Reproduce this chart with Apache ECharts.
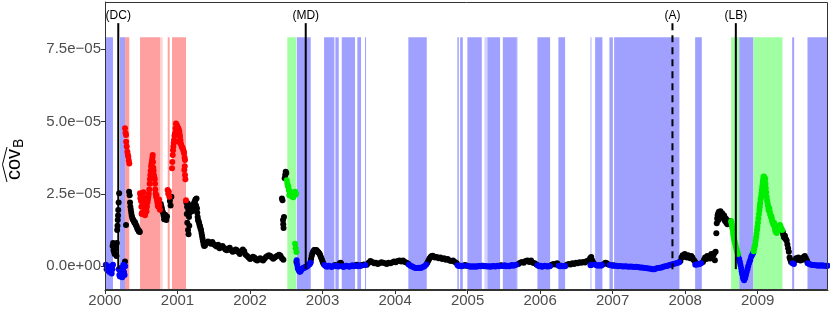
<!DOCTYPE html>
<html><head><meta charset="utf-8">
<script src="https://cdn.jsdelivr.net/npm/echarts@6/dist/echarts.min.js"></script>
<style>html,body{margin:0;padding:0;background:#fff}#c{width:830px;height:313px}</style>
</head><body><div id="c"></div>
<script>
// x values: decimal years; y values: covariance in units of 1e-5
const xTickValues = [2000,2001,2002,2003,2004,2005,2006,2007,2008,2009];
const xTickLabels = ['2000','2001','2002','2003','2004','2005','2006','2007','2008','2009'];
const yTickValues = [0, 2.5, 5, 7.5];
const yTickLabels = ['0.0e+00','2.5e\u221205','5.0e\u221205','7.5e\u221205'];

const eventYears  = [2000.183, 2002.768, 2007.825, 2008.699];
const eventLabels = ['(DC)', '(MD)', '(A)', '(LB)'];

const blueBands = [[2000.014,2000.110],[2000.207,2000.276],[2002.644,2002.837],[2003.021,2003.163],[2003.177,2003.223],[2003.265,2003.448],[2003.480,2003.531],[2003.586,2003.596],[2004.183,2004.437],[2004.859,2004.879],[2004.897,2004.934],[2004.997,2005.196],[2005.273,2005.448],[2005.486,2005.679],[2005.963,2006.138],[2006.252,2006.345],[2006.759,2006.859],[2006.956,2007.003],[2007.021,2007.921],[2008.138,2008.230],[2008.745,2008.942],[2009.476,2009.503],[2009.687,2009.970]];
const faintBlueBands = [[2005.232,2005.273],[2006.690,2006.713],[2005.679,2005.690]];
const redBands = [[2000.276,2000.335],[2000.483,2000.759],[2000.865,2000.892],[2000.924,2001.117]];
const faintRedBands = [[2000.759,2000.796]];
const greenBands = [[2002.514,2002.634],[2008.634,2008.745],[2008.942,2009.342]];

const bluePts = [
[2000.012,0.05],[2000.022,-0.1],[2000.032,0.0],[2000.042,-0.15],[2000.052,-0.05],[2000.062,-0.2],[2000.072,-0.1],[2000.082,0.0],[2000.092,-0.25],[2000.102,-0.1],[2000.110,0.05],
[2000.190,-0.1],[2000.198,-0.3],[2000.206,-0.35],[2000.214,-0.2],[2000.222,-0.05],[2000.230,-0.25],[2000.238,-0.38],[2000.246,-0.1],[2000.254,0.05],[2000.262,-0.2],[2000.270,-0.3],[2000.278,0.0],
[2002.643,0.21],[2002.650,0.05],[2002.658,-0.06],[2002.666,-0.1],[2002.674,-0.15],[2002.682,-0.18],[2002.690,-0.19],[2002.698,-0.16],[2002.706,-0.13],[2002.714,-0.1],[2002.722,-0.08],[2002.730,-0.07],[2002.738,-0.06],[2002.746,-0.05],[2002.754,-0.04],[2002.762,-0.03],[2002.770,-0.02],[2002.778,-0.02],[2002.786,0.0],[2002.794,0.02],[2002.802,0.04],[2002.810,0.05],[2002.818,0.07],[2002.826,0.09],[2002.834,0.12],
[2003.025,0.04],[2003.045,0.0],[2003.065,-0.02],[2003.085,0.02],[2003.105,0.0],[2003.125,-0.03],[2003.145,0.0],[2003.16,0.02],[2003.185,0.0],[2003.205,0.02],[2003.22,-0.01],[2003.27,0.0],[2003.29,-0.03],[2003.31,0.0],[2003.33,0.02],[2003.35,0.0],[2003.37,-0.02],[2003.39,0.01],[2003.41,0.03],[2003.43,0.0],[2003.445,0.02],[2003.485,0.0],[2003.505,0.03],[2003.525,0.01],[2003.59,0.04],
[2004.19,0.06],[2004.21,0.02],[2004.23,0.0],[2004.25,-0.03],[2004.27,-0.05],[2004.29,-0.06],[2004.31,-0.06],[2004.33,-0.05],[2004.35,-0.06],[2004.37,-0.04],[2004.39,-0.02],[2004.41,0.01],[2004.43,0.06],
[2004.862,0.03],[2004.876,0.01],[2004.90,0.02],[2004.915,0.0],[2004.93,0.02],[2005.00,0.02],[2005.02,0.0],[2005.04,-0.02],[2005.06,0.0],[2005.08,-0.02],[2005.10,0.0],[2005.12,-0.02],[2005.14,0.0],[2005.16,0.01],[2005.18,0.0],[2005.195,0.02],[2005.235,0.01],[2005.255,0.0],[2005.275,-0.01],[2005.295,0.0],[2005.315,-0.02],[2005.335,0.0],[2005.355,0.01],[2005.375,-0.01],[2005.395,0.0],[2005.415,0.02],[2005.435,0.0],[2005.49,0.01],[2005.51,0.03],[2005.53,0.0],[2005.55,0.02],[2005.57,0.0],[2005.59,0.02],[2005.61,0.04],[2005.63,0.02],[2005.65,0.03],[2005.67,0.05],
[2005.965,0.03],[2005.985,0.0],[2006.005,0.02],[2006.025,-0.02],[2006.045,0.0],[2006.065,0.02],[2006.085,0.0],[2006.105,-0.01],[2006.125,0.01],[2006.135,0.0],
[2006.255,0.02],[2006.275,0.0],[2006.295,0.02],[2006.315,0.0],[2006.335,0.02],[2006.345,0.0],
[2006.695,0.03],[2006.71,0.05],[2006.762,0.05],[2006.78,0.03],[2006.80,0.02],[2006.82,0.04],[2006.84,0.02],[2006.855,0.04],
[2006.96,0.04],[2006.98,0.03],[2007.00,0.02],[2007.025,0.02],[2007.05,0.02],[2007.075,0.0],[2007.10,0.01],[2007.125,0.0],[2007.15,-0.01],[2007.175,0.0],[2007.20,-0.01],[2007.225,-0.02],[2007.25,-0.01],[2007.275,-0.02],[2007.30,-0.03],[2007.325,-0.02],[2007.35,-0.03],[2007.375,-0.04],[2007.40,-0.04],[2007.425,-0.05],[2007.45,-0.06],[2007.475,-0.07],[2007.50,-0.08],[2007.525,-0.09],[2007.55,-0.1],[2007.575,-0.1],[2007.60,-0.08],[2007.625,-0.06],[2007.65,-0.05],[2007.675,-0.04],[2007.70,-0.02],[2007.725,0.0],[2007.75,0.01],[2007.775,0.03],[2007.80,0.05],[2007.825,0.07],[2007.85,0.09],[2007.875,0.1],[2007.90,0.12],[2007.92,0.14],
[2008.14,0.05],[2008.16,0.06],[2008.18,0.07],[2008.20,0.08],[2008.22,0.1],
[2008.731,0.35],[2008.745,0.25],[2008.755,0.15],[2008.763,0.04],[2008.772,-0.06],[2008.779,-0.17],[2008.786,-0.27],[2008.796,-0.37],[2008.803,-0.44],[2008.814,-0.48],[2008.828,-0.41],[2008.839,-0.30],[2008.848,-0.20],[2008.859,-0.10],[2008.869,0.0],[2008.883,0.11],[2008.897,0.21],[2008.910,0.32],[2008.924,0.39],[2008.938,0.46],
[2009.48,0.1],[2009.50,0.08],
[2009.69,0.1],[2009.71,0.08],[2009.73,0.06],[2009.75,0.04],[2009.77,0.04],[2009.79,0.03],[2009.81,0.03],[2009.83,0.02],[2009.85,0.03],[2009.87,0.02],[2009.89,0.03],[2009.91,0.02],[2009.93,0.02],[2009.95,0.01],[2009.965,0.02]
];

const redPts = [
[2000.276,4.76],[2000.283,4.6],[2000.290,4.53],[2000.292,4.3],[2000.299,4.13],[2000.308,3.95],[2000.315,3.85],[2000.321,3.78],[2000.328,3.65],[2000.335,3.55],
[2000.483,2.52],[2000.488,2.35],[2000.492,2.45],[2000.497,2.25],[2000.502,2.05],[2000.506,1.8],[2000.511,1.85],[2000.516,2.1],[2000.520,2.2],[2000.525,2.4],[2000.530,2.55],[2000.535,2.35],[2000.540,2.1],[2000.545,1.9],[2000.552,1.76],[2000.558,1.85],[2000.565,1.95],[2000.572,1.9],[2000.578,2.05],[2000.585,2.2],[2000.592,2.3],[2000.598,2.4],[2000.604,2.5],[2000.610,2.65],[2000.616,2.85],[2000.620,3.0],[2000.625,3.15],[2000.630,3.3],[2000.636,3.45],[2000.642,3.55],[2000.648,3.65],[2000.654,3.75],[2000.658,3.84],[2000.662,3.6],[2000.666,3.4],[2000.670,3.3],[2000.675,3.15],[2000.680,3.05],[2000.686,3.0],[2000.690,2.85],[2000.694,2.65],[2000.698,2.5],[2000.704,2.4],[2000.710,2.45],[2000.716,2.3],[2000.722,2.2],[2000.728,2.1],[2000.734,2.05],[2000.740,2.2],[2000.746,2.3],[2000.752,2.1],[2000.758,1.95],
[2000.864,2.63],[2000.872,2.5],[2000.880,2.57],[2000.888,2.4],
[2000.924,3.38],[2000.928,3.6],[2000.934,3.84],[2000.938,4.0],[2000.942,4.13],[2000.947,4.25],[2000.952,4.36],[2000.958,4.5],[2000.966,4.59],[2000.972,4.75],[2000.979,4.93],[2000.986,4.88],[2000.992,4.85],[2000.997,4.82],[2001.004,4.78],[2001.011,4.76],[2001.011,4.3],[2001.018,4.7],[2001.025,4.65],[2001.030,4.55],[2001.034,4.47],[2001.040,4.35],[2001.044,4.24],[2001.050,4.2],[2001.058,4.12],[2001.065,4.1],[2001.072,4.07],[2001.080,4.0],[2001.086,3.95],[2001.090,3.9],[2001.097,3.75],[2001.103,3.67],[2001.094,3.32],[2001.100,3.45],[2001.103,3.15],[2001.108,3.0],[2001.117,2.28]
];

const greenPts = [
[2002.506,2.97],[2002.515,2.85],[2002.522,2.78],[2002.528,2.74],[2002.535,2.62],[2002.542,2.45],[2002.548,2.6],[2002.555,2.55],[2002.562,2.5],[2002.568,2.42],[2002.575,2.51],[2002.582,2.45],[2002.590,2.4],[2002.597,2.38],[2002.604,2.45],[2002.612,2.52],[2002.621,2.57],[2002.628,2.48],[2002.634,2.51],[2002.621,0.78],[2002.630,0.62],[2002.640,0.49],
[2008.634,1.55],[2008.640,1.5],[2008.644,1.42],[2008.650,1.35],[2008.655,1.28],[2008.660,1.2],[2008.664,1.1],[2008.668,1.02],[2008.674,0.95],[2008.680,0.88],[2008.686,0.82],[2008.692,0.76],[2008.700,0.68],[2008.707,0.6],[2008.714,0.55],[2008.721,0.47],[2008.728,0.42],
[2008.945,0.52],[2008.952,0.6],[2008.959,0.68],[2008.966,0.75],[2008.972,0.88],[2008.979,1.0],[2008.985,1.12],[2008.991,1.25],[2008.997,1.36],[2009.004,1.5],[2009.011,1.65],[2009.018,1.8],[2009.025,1.94],[2009.030,2.05],[2009.034,2.17],[2009.041,2.3],[2009.048,2.4],[2009.053,2.52],[2009.058,2.63],[2009.064,2.75],[2009.069,2.87],[2009.074,2.98],[2009.080,3.09],
[2009.086,3.1],[2009.092,3.0],[2009.098,2.92],[2009.103,3.03],[2009.108,2.85],[2009.112,2.7],[2009.118,2.55],[2009.124,2.4],[2009.130,2.28],[2009.136,2.2],[2009.142,2.1],[2009.148,1.98],[2009.154,1.92],[2009.160,2.0],[2009.166,1.9],[2009.172,1.8],[2009.178,1.75],[2009.184,1.7],[2009.190,1.72],[2009.196,1.62],[2009.202,1.55],[2009.208,1.5],[2009.214,1.48],[2009.220,1.42],[2009.226,1.5],[2009.232,1.4],[2009.238,1.3],[2009.244,1.22],[2009.250,1.28],[2009.256,1.18],[2009.262,1.15],[2009.268,1.2],[2009.275,1.25],[2009.282,1.3],[2009.290,1.35],[2009.298,1.4],[2009.306,1.42],[2009.314,1.38],[2009.322,1.32],[2009.330,1.28],[2009.338,1.25]
];

const blackPts = [
[2000.105,0.7],[2000.112,0.8],[2000.118,0.55],[2000.125,0.5],[2000.132,0.42],[2000.138,0.45],[2000.145,0.6],[2000.152,0.67],[2000.158,0.35],[2000.163,0.8],[2000.168,1.25],[2000.172,1.4],[2000.176,1.6],[2000.180,1.75],[2000.183,1.94],[2000.188,2.2],[2000.195,2.52],
[2000.276,0.16],[2000.290,1.42],[2000.332,2.57],[2000.340,2.45],[2000.345,2.2],[2000.350,2.05],[2000.356,1.95],[2000.362,1.85],[2000.368,1.75],[2000.375,1.68],[2000.382,1.62],[2000.390,1.6],[2000.398,1.55],[2000.406,1.5],[2000.414,1.52],[2000.422,1.45],[2000.430,1.4],[2000.437,1.38],[2000.445,1.3],[2000.452,1.28],[2000.459,1.25],[2000.466,1.2],[2000.473,1.22],[2000.480,1.18],
[2000.762,2.1],[2000.770,2.15],[2000.778,2.05],[2000.785,1.98],[2000.792,1.9],[2000.800,1.85],[2000.808,1.75],[2000.815,1.62],[2000.822,1.7],[2000.830,1.78],[2000.838,1.65],[2000.846,1.6],[2000.855,1.72],[2000.895,2.25],[2000.905,2.1],[2000.915,2.4],
[2001.122,2.2],[2001.128,1.8],[2001.132,2.05],[2001.135,1.5],[2001.140,2.17],[2001.145,1.25],[2001.149,1.94],[2001.152,1.1],[2001.158,1.7],[2001.162,1.4],[2001.168,1.85],[2001.172,2.05],[2001.178,1.95],[2001.185,2.1],[2001.192,2.0],[2001.200,1.9],[2001.208,2.05],[2001.215,2.11],[2001.222,2.0],[2001.230,2.2],[2001.236,2.15],[2001.241,2.25],[2001.248,2.3],[2001.255,2.1],[2001.262,2.34],[2001.268,2.0],[2001.272,1.85],[2001.278,1.7],[2001.283,1.6],[2001.290,1.55],[2001.297,1.5],[2001.303,1.42],[2001.310,1.38],[2001.317,1.3],[2001.324,1.25],[2001.331,1.15],[2001.338,1.05],[2001.345,0.95],[2001.352,0.85],[2001.360,0.75],[2001.368,0.7],
[2001.38,0.72],[2001.40,0.8],[2001.42,0.85],[2001.44,0.82],[2001.46,0.78],[2001.48,0.84],[2001.50,0.76],[2001.52,0.72],[2001.54,0.68],[2001.56,0.74],[2001.58,0.62],[2001.60,0.66],[2001.62,0.7],[2001.64,0.64],[2001.66,0.58],[2001.68,0.55],[2001.70,0.6],[2001.72,0.64],[2001.74,0.55],[2001.76,0.5],[2001.78,0.52],[2001.80,0.58],[2001.82,0.55],[2001.84,0.48],[2001.86,0.42],[2001.88,0.5],[2001.90,0.58],[2001.92,0.52],[2001.94,0.4],[2001.96,0.35],[2001.98,0.3],[2002.00,0.25],[2002.02,0.28],[2002.04,0.33],[2002.06,0.3],[2002.08,0.22],[2002.10,0.2],[2002.12,0.25],[2002.14,0.28],[2002.16,0.22],[2002.18,0.2],[2002.20,0.26],[2002.22,0.32],[2002.24,0.35],[2002.26,0.38],[2002.28,0.35],[2002.30,0.3],[2002.32,0.26],[2002.34,0.3],[2002.36,0.34],[2002.38,0.36],[2002.40,0.4],[2002.42,0.36],[2002.44,0.28],[2002.46,0.22],
[2002.440,2.34],[2002.448,2.28],[2002.455,1.6],[2002.458,1.45],[2002.462,1.32],[2002.468,1.7],[2002.478,3.04],[2002.485,3.15],[2002.492,3.26],[2002.500,3.22],
[2002.640,0.15],
[2002.835,0.15],[2002.842,0.25],[2002.850,0.35],[2002.858,0.42],[2002.866,0.48],[2002.875,0.52],[2002.885,0.56],[2002.895,0.56],[2002.905,0.55],[2002.915,0.56],[2002.925,0.53],[2002.935,0.5],[2002.945,0.47],[2002.955,0.44],[2002.965,0.4],[2002.975,0.33],[2002.985,0.27],[2002.995,0.2],[2003.005,0.13],[2003.015,0.08],
[2003.17,0.04],[2003.235,0.1],[2003.25,0.12],[2003.26,0.08],[2003.46,0.03],[2003.472,0.05],[2003.545,0.04],[2003.56,0.05],[2003.575,0.06],
[2003.61,0.05],[2003.635,0.12],[2003.66,0.18],[2003.685,0.15],[2003.71,0.1],[2003.735,0.12],[2003.76,0.08],[2003.785,0.1],[2003.81,0.14],[2003.835,0.12],[2003.86,0.1],[2003.885,0.08],[2003.91,0.12],[2003.935,0.1],[2003.96,0.13],[2003.985,0.16],[2004.01,0.14],[2004.035,0.18],[2004.06,0.2],[2004.085,0.16],[2004.11,0.2],[2004.135,0.15],[2004.16,0.12],[2004.185,0.08],
[2004.445,0.12],[2004.46,0.2],[2004.475,0.27],[2004.49,0.32],[2004.505,0.35],[2004.52,0.36],[2004.535,0.33],[2004.55,0.3],[2004.575,0.32],[2004.6,0.28],[2004.625,0.3],[2004.65,0.25],[2004.675,0.28],[2004.7,0.22],[2004.725,0.25],[2004.75,0.2],[2004.775,0.18],[2004.8,0.2],[2004.825,0.15],[2004.85,0.1],
[2004.888,0.02],[2004.945,0.02],[2004.965,0.04],[2004.985,0.02],[2005.21,0.02],[2005.225,0.0],[2005.46,0.03],[2005.475,0.02],
[2005.70,0.08],[2005.725,0.12],[2005.75,0.15],[2005.775,0.12],[2005.80,0.18],[2005.825,0.2],[2005.85,0.15],[2005.875,0.2],[2005.90,0.12],[2005.925,0.1],[2005.95,0.06],
[2006.16,0.05],[2006.185,0.08],[2006.21,0.06],[2006.235,0.1],[2006.25,0.05],
[2006.37,0.05],[2006.395,0.08],[2006.42,0.06],[2006.445,0.1],[2006.47,0.08],[2006.495,0.12],[2006.52,0.1],[2006.545,0.14],[2006.57,0.12],[2006.595,0.15],[2006.62,0.13],[2006.645,0.18],[2006.67,0.2],[2006.69,0.28],[2006.705,0.32],[2006.72,0.2],[2006.74,0.1],
[2006.88,0.08],[2006.90,0.12],[2006.92,0.1],[2006.94,0.06],[2007.012,0.03],
[2007.935,0.18],[2007.95,0.3],[2007.965,0.38],[2007.98,0.32],[2007.995,0.42],[2008.01,0.35],[2008.025,0.3],[2008.04,0.38],[2008.055,0.33],[2008.07,0.28],[2008.085,0.35],[2008.10,0.3],[2008.115,0.22],[2008.13,0.18],[2008.145,0.12],
[2008.245,0.15],[2008.26,0.22],[2008.275,0.3],[2008.29,0.25],[2008.305,0.35],[2008.32,0.28],[2008.335,0.32],[2008.345,0.27],[2008.36,0.42],[2008.375,0.35],[2008.39,0.39],[2008.40,0.45],[2008.41,0.21],[2008.42,0.5],[2008.43,1.14],[2008.436,1.48],[2008.442,1.65],[2008.448,1.76],[2008.455,1.82],[2008.46,1.6],[2008.466,1.88],[2008.473,1.85],[2008.48,1.7],[2008.487,1.9],[2008.494,1.82],[2008.50,1.75],[2008.508,1.83],[2008.515,1.8],[2008.522,1.7],[2008.53,1.65],[2008.538,1.75],[2008.545,1.6],[2008.552,1.55],[2008.56,1.65],[2008.568,1.5],[2008.575,1.6],[2008.582,1.45],[2008.59,1.52],[2008.598,1.55],[2008.605,1.48],[2008.612,1.5],[2008.62,1.45],[2008.628,1.55],
[2009.345,1.2],[2009.352,1.1],[2009.36,1.02],[2009.368,0.98],[2009.376,1.05],[2009.384,0.95],[2009.392,0.92],[2009.40,0.88],[2009.41,0.75],[2009.42,0.62],[2009.43,0.5],[2009.44,0.3],[2009.45,0.22],[2009.46,0.15],
[2009.515,0.2],[2009.53,0.28],[2009.545,0.22],[2009.56,0.3],[2009.575,0.25],[2009.59,0.2],[2009.605,0.28],[2009.62,0.22],[2009.635,0.32],[2009.65,0.35],[2009.665,0.28],[2009.68,0.2],[2009.69,0.12]
];

// layout constants (data units on the y axis)
const X_MIN = 2000, X_MAX = 2009.97;
const Y_MIN = -0.82, Y_MAX = 9.12;
const BAND_TOP = 7.9, LINE_BOTTOM = -0.1, LINE_TOP = 8.39, LABEL_Y = 8.64;
const FONT = '"Liberation Sans", Arial, Helvetica, sans-serif';
const GRID = {left:105, top:2, right:2, bottom:23};

const chart = echarts.init(document.getElementById('c'), null, {renderer:'canvas'});

function bandSeries(bands, color, z){
  return {
    type:'custom', z:z, silent:true, clip:true,
    data: bands,
    encode:{x:[0,1]},
    renderItem: function(params, api){
      const p0 = api.coord([api.value(0), BAND_TOP]);
      const p1 = api.coord([api.value(1), Y_MIN]);
      return {type:'rect', shape:{x:p0[0], y:p0[1], width:Math.max(p1[0]-p0[0], 1), height:p1[1]-p0[1]}, style:{fill:color}};
    }
  };
}
function pointSeries(pts, color){
  return {type:'scatter', data:pts, symbol:'circle', symbolSize:6, z:5, silent:true,
          itemStyle:{color:color, borderWidth:0, opacity:1}};
}
const lineStyleByLabel = {'(A)':[7,5]};

chart.setOption({
  animation:false,
  backgroundColor:'#ffffff',
  grid:{left:GRID.left, top:GRID.top, right:GRID.right, bottom:GRID.bottom, show:false},
  xAxis:{type:'value', min:X_MIN, max:X_MAX,
    axisLine:{show:true, onZero:false, lineStyle:{color:'#333333', width:1}},
    axisTick:{show:true, length:4, customValues:xTickValues, lineStyle:{color:'#333333'}},
    axisLabel:{customValues:xTickValues, color:'#4d4d4d', fontSize:15, fontFamily:FONT, margin:3,
      formatter:function(v){ const i = xTickValues.indexOf(Math.round(v)); return i>=0 ? xTickLabels[i] : ''; }},
    splitLine:{show:false}},
  yAxis:{type:'value', min:Y_MIN, max:Y_MAX,
    axisLine:{show:true, onZero:false, lineStyle:{color:'#333333', width:1}},
    axisTick:{show:true, length:4, customValues:yTickValues, lineStyle:{color:'#333333'}},
    axisLabel:{customValues:yTickValues, color:'#4d4d4d', fontSize:15, fontFamily:FONT, margin:4,
      formatter:function(v){ let i=-1; yTickValues.forEach((t,k)=>{ if(Math.abs(t-v)<1e-6) i=k; }); return i>=0 ? yTickLabels[i] : ''; }},
    splitLine:{show:false}},
  graphic:[
    {type:'rect', z:100, silent:true, shape:{x:GRID.left+0.5, y:GRID.top+0.5, width:830-GRID.left-GRID.right-1, height:313-GRID.top-GRID.bottom-1},
     style:{fill:null, stroke:'#333333', lineWidth:1}},
    {type:'group', x:24, y:180, rotation:Math.PI/2, z:100, silent:true, children:[
      {type:'text', x:0, y:0, style:{text:'cov', font:'20px '+FONT, fill:'#000', align:'left', verticalAlign:'bottom'}},
      {type:'text', x:32, y:2, style:{text:'B', font:'14px '+FONT, fill:'#000', align:'left', verticalAlign:'bottom'}},
      {type:'polyline', shape:{points:[[-2,-17],[15.5,-21.5],[33,-17]]}, style:{stroke:'#000', lineWidth:1, fill:null}}
    ]}
  ],
  series:[
    bandSeries(faintBlueBands, '#d2d2ff', 1),
    bandSeries(faintRedBands, '#ffd2d2', 1),
    bandSeries(blueBands, '#a0a0ff', 1),
    bandSeries(redBands, '#ffa0a0', 1),
    bandSeries(greenBands, '#a0ffa0', 1),
    pointSeries(blackPts, '#000000'),
    pointSeries(bluePts, '#0000ff'),
    pointSeries(redPts, '#ff0000'),
    pointSeries(greenPts, '#00ee00'),
    {type:'custom', z:8, silent:true, clip:false,
     data: eventYears.map(function(y, i){ return [y, i]; }),
     encode:{x:0},
     renderItem:function(params, api){
       const yr = api.value(0), idx = api.value(1);
       const label = eventLabels[idx];
       const pb = api.coord([yr, LINE_BOTTOM]);
       const pt = api.coord([yr, LINE_TOP]);
       const pl = api.coord([yr, LABEL_Y]);
       return {type:'group', children:[
         {type:'line', shape:{x1:pt[0], y1:pt[1], x2:pb[0], y2:pb[1]},
          style:{stroke:'#000', lineWidth:2, lineDash: lineStyleByLabel[label] || null}},
         {type:'text', style:{text:label, x:pl[0], y:pl[1], align:'center', verticalAlign:'middle', font:'12px '+FONT, fill:'#000'}}
       ]};
     }}
  ]
});
</script></body></html>
